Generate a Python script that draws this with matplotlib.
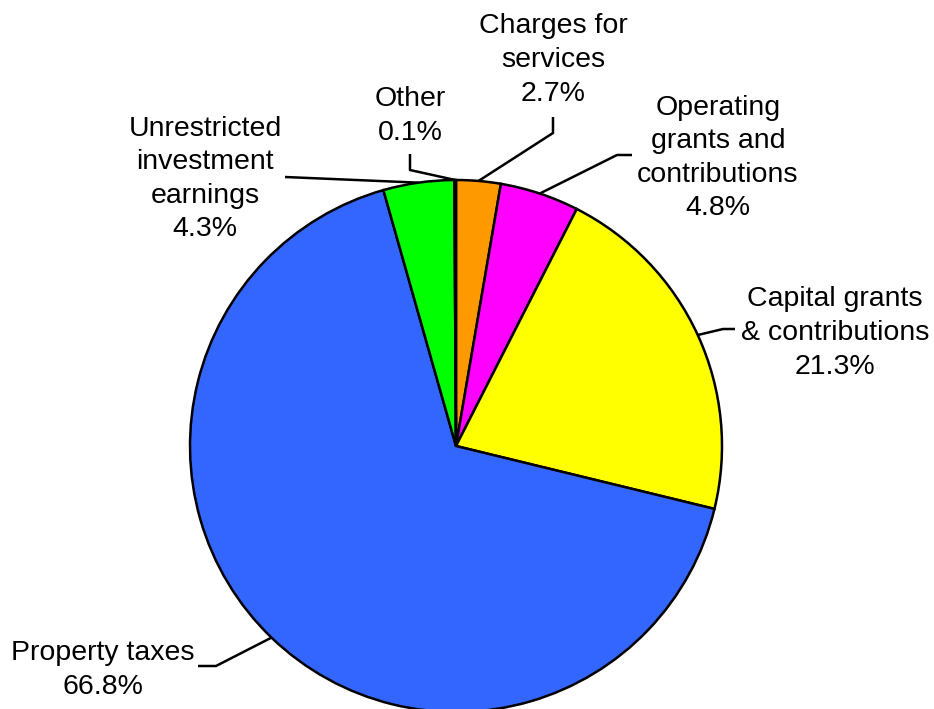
import numpy as np
import matplotlib
matplotlib.use('Agg')
import matplotlib.pyplot as plt

plt.rcParams['font.family'] = ['Liberation Sans', 'DejaVu Sans']

# --- データ ---
labels = ['Charges for\nservices', 'Operating\ngrants and\ncontributions',
          'Capital grants\n& contributions', 'Property taxes',
          'Unrestricted\ninvestment\nearnings', 'Other']
values = [2.7, 4.8, 21.3, 66.8, 4.3, 0.1]
colors = ['#FF9900', '#FF00FF', '#FFFF00', '#3366FF', '#00FF00', '#00FFFF']

# --- レイアウト (ピクセル座標, 上原点) ---
W, H = 934, 709
cx, cy, R = 456, 446, 266
# ラベル中心と引出線の折れ点
label_pos = [(553, 60), (718, 158), (835, 333), (103, 670), (205, 179), (410, 116)]
elbows = [
    [(553, 133), (553, 117)],
    [(617, 155), (632, 155)],
    [(723, 329), (735, 329)],
    [(216, 666), (198, 666)],
    [(285, 177)],
    [(410, 170), (410, 154)],
]

fig = plt.figure(figsize=(W / 100, H / 100), dpi=100)
ax = fig.add_axes([0, 0, 1, 1])
ax.axis('off')

wedges, _ = ax.pie(values, colors=colors, startangle=90, counterclock=False,
                   center=(cx, H - cy), radius=R,
                   wedgeprops=dict(edgecolor='black', linewidth=1.8))
ax.set_xlim(0, W)
ax.set_ylim(0, H)
ax.set_aspect('equal')

for w, lab, v, (lx, ly), pts in zip(wedges, labels, values, label_pos, elbows):
    ang = np.deg2rad((w.theta1 + w.theta2) / 2)
    x0 = cx + R * np.cos(ang)
    y0 = (H - cy) + R * np.sin(ang)
    xs = [x0] + [p[0] for p in pts]
    ys = [y0] + [H - p[1] for p in pts]
    ax.plot(xs, ys, color='black', lw=1.8, solid_capstyle='butt')
    ax.text(lx, H - ly, f'{lab}\n{v:.1f}%', ha='center', va='center',
            fontsize=20.5, linespacing=1.38)

fig.savefig('out.png', dpi=100)
